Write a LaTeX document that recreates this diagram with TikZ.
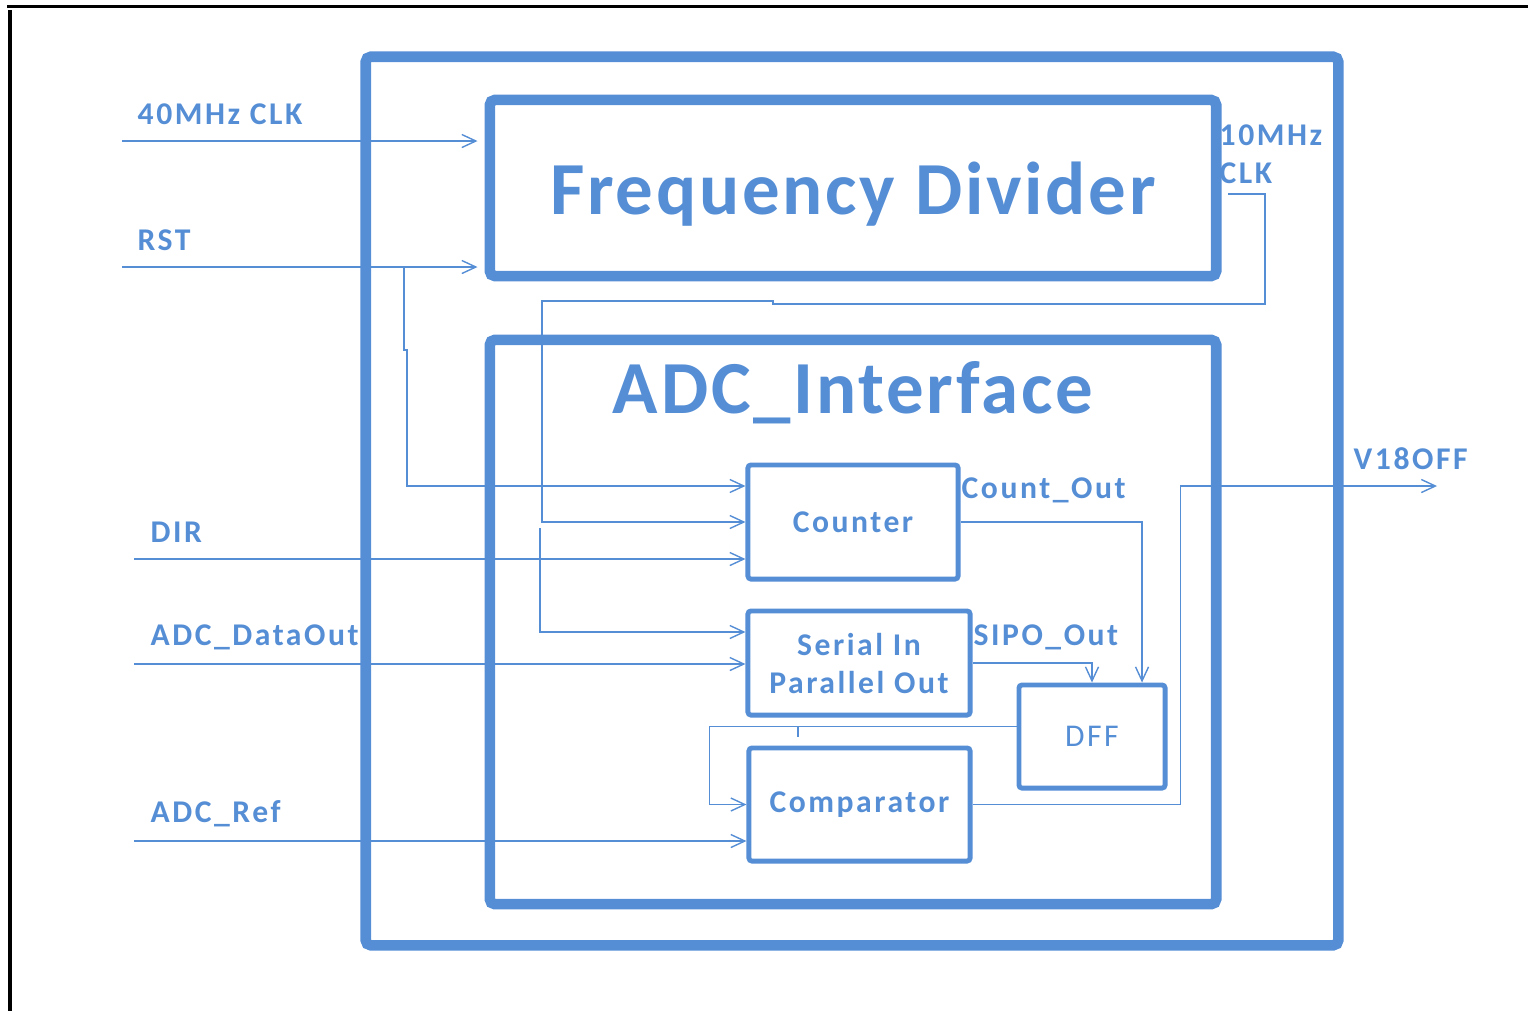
\documentclass[tikz,border=0pt]{standalone}
\usepackage{fontspec}
\setmainfont{Carlito}
\newfontfamily\lblfont[LetterSpace=8]{Carlito}
\newfontfamily\bigfont[LetterSpace=3.7]{Carlito}
\usetikzlibrary{arrows.meta}
\definecolor{ofblue}{RGB}{85,142,213}
\tikzset{
  bigbox/.style={draw=ofblue, line width=3pt, rounded corners=0.5mm, inner sep=0pt},
  blk/.style={draw=ofblue, line width=1.4pt, rounded corners=0.3mm, inner sep=0pt},
  sig/.style={draw=ofblue, line width=0.4pt},
  arr/.style={sig, -{Straight Barb[length=1.4mm,width=1.3mm]}},
  lbl/.style={text=ofblue, font=\fontsize{9}{10.8}\lblfont\bfseries, inner sep=0pt},
  bigtxt/.style={text=ofblue, font=\fontsize{21.3}{25}\bigfont\bfseries, inner sep=0pt},
}
\begin{document}
\begin{tikzpicture}[x=0.01cm,y=-0.01cm]
\useasboundingbox (0,0) rectangle (1528,1011);
% page frame
\draw[line width=0.85pt] (7,6.5) -- (1528,6.5);
\draw[line width=1.1pt] (10,10) -- (10,1011);
% blocks
\node[bigbox, minimum width=9.72cm, minimum height=8.88cm] (top) at (852,501) {};
\node[bigbox, bigtxt, text depth=0pt, minimum width=7.26cm, minimum height=1.76cm] (fdiv) at (853,188) {Frequency Divider};
\node[bigbox, minimum width=7.26cm, minimum height=5.64cm] (adc) at (853,622) {};
\node[bigtxt] (adct) at (853,393) {ADC\_Interface};
\node[blk, lbl, minimum width=2.10cm, minimum height=1.14cm] (ctr) at (853,522) {Counter};
\node[blk, lbl, minimum width=2.22cm, minimum height=1.04cm, align=center] (sipo) at (859,663) {Serial In\\Parallel Out};
\node[blk, lbl, font=\fontsize{9}{10.8}\lblfont, minimum width=1.46cm, minimum height=1.03cm] (dff) at (1092,736.5) {DFF};
\node[blk, lbl, minimum width=2.21cm, minimum height=1.13cm] (cmp) at (859.5,804.5) {Comparator};
% inputs
\coordinate (clkin) at (122,141);
\coordinate (rstin) at (122,267);
\coordinate (dirin) at (134,559);
\coordinate (datin) at (134,664);
\coordinate (refin) at (134,841);
\coordinate (rstj) at (404,267);
\coordinate (clkout) at (1228,194);
\coordinate (voff) at (1437,486);
\node[lbl, anchor=west] (clkl) at (137,114) {40MHz CLK};
\node[lbl, anchor=west] (rstl) at (137,240) {RST};
\node[lbl, anchor=west] (dirl) at (150,532) {DIR};
\node[lbl, anchor=west] (datl) at (150,637) {ADC\_DataOut};
\node[lbl, anchor=west] (refl) at (150,814) {ADC\_Ref};
\node[lbl, anchor=west, align=left] (clk10l) at (1219,154) {10MHz\\CLK};
\node[lbl, anchor=west] (cntl) at (961,490) {Count\_Out};
\node[lbl, anchor=west] (sipol) at (973,637) {SIPO\_Out};
\node[lbl, anchor=west] (voffl) at (1353,459) {V18OFF};
% signals
\draw[arr, shorten >=0.7mm] (clkin) -- (clkin -| fdiv.west);
\draw[arr, shorten >=0.7mm] (rstin) -- (rstin -| fdiv.west);
\draw[arr] (rstj) -- ++(0,83) -- ++(3,0) |- ([yshift=0.36cm]ctr.west);
\draw[arr] (clkout) -| (1265,304) -- (773,304) -- (773,301) -| (542,522) -- (ctr.west);
\draw[arr] (540,528) |- ([yshift=0.31cm]sipo.west);
\draw[arr] (dirin) -- (dirin -| ctr.west);
\draw[arr] (datin) -- (datin -| sipo.west);
\draw[arr] (refin) -- (refin -| cmp.west);
\draw[arr] (ctr.east) -| ([xshift=0.5cm]dff.north);
\draw[arr] (sipo.east) -| (dff.north);
\draw[arr] ([yshift=0.1cm]dff.west) -- ++(-307,0) |- (cmp.west);
\draw[sig] (798,727) -- (798,737);
\draw[arr] (cmp.east) -- ++(208,0) |- (voff);
\end{tikzpicture}
\end{document}
